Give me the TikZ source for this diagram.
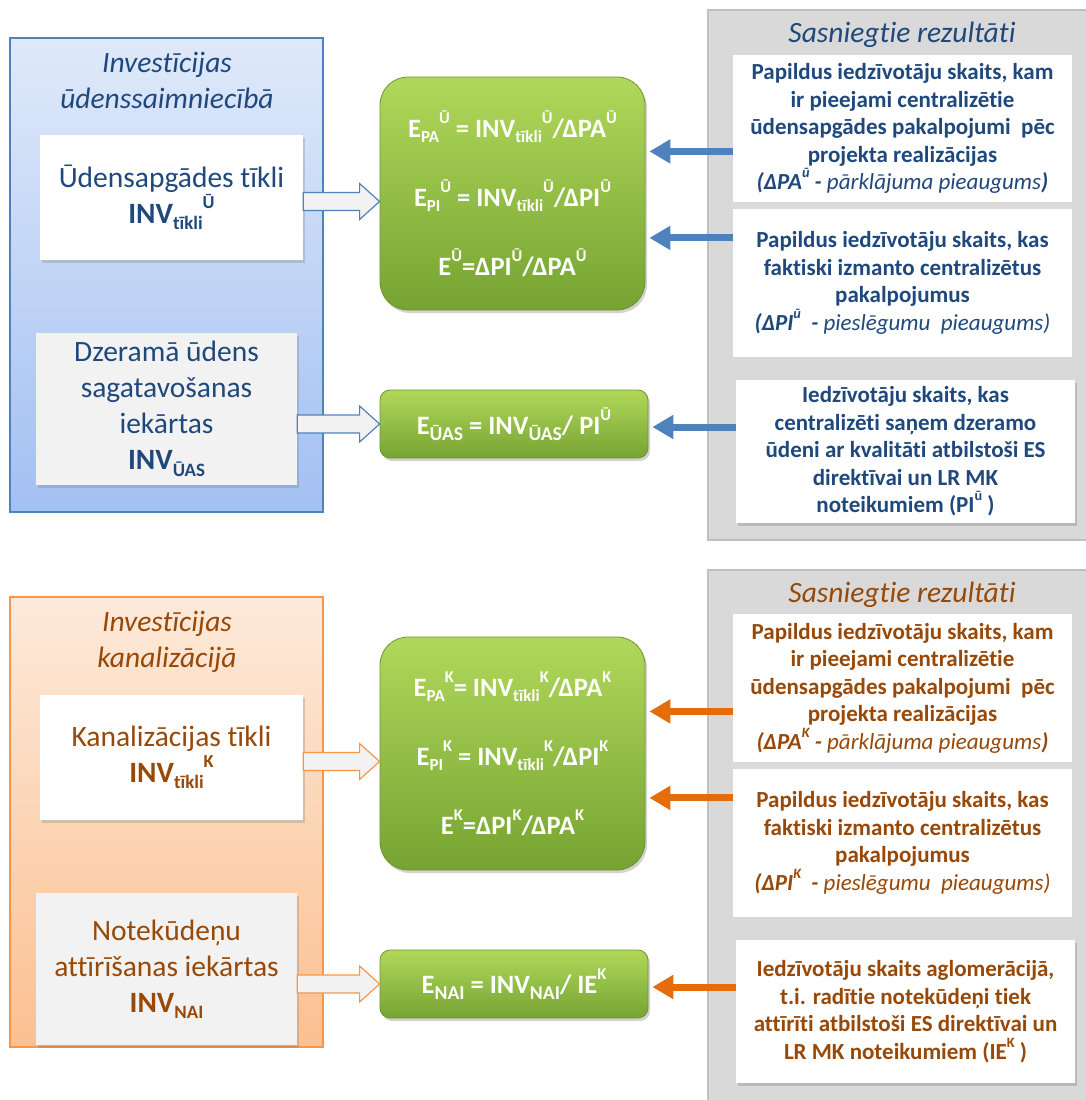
\documentclass[tikz,border=0pt]{standalone}
\usepackage{fontspec}
\setmainfont{Carlito}[Ligatures={TeX,NoCommon}]
\usetikzlibrary{calc, arrows.meta, positioning, shadows}
\definecolor{watertext}{RGB}{31,73,125}
\definecolor{waterblue}{RGB}{79,129,189}
\definecolor{watertop}{RGB}{224,233,250}
\definecolor{waterbottom}{RGB}{162,192,242}
\definecolor{sewertext}{RGB}{152,72,7}
\definecolor{sewerorange}{RGB}{228,108,10}
\definecolor{sewerline}{RGB}{247,150,70}
\definecolor{sewertop}{RGB}{253,234,218}
\definecolor{sewerbottom}{RGB}{251,192,145}
\definecolor{greentop}{RGB}{176,216,90}
\definecolor{greenbottom}{RGB}{118,163,50}
\definecolor{greenedge}{RGB}{110,150,50}
\definecolor{srcgray}{RGB}{242,242,242}
\definecolor{resgray}{RGB}{217,217,217}
\definecolor{resline}{RGB}{191,191,191}
\newcommand{\lowtxt}[2][0.64]{\raisebox{-0.22em}{\scalebox{#1}{#2}}}
\newcommand{\hightxt}[1]{\raisebox{0.52em}{\scalebox{0.62}{#1}}}
\newcommand{\hollowarrow}[3]{%
	\draw[#3, fill=srcgray, line width=1.2pt, line join=miter] let \p1=(#1.east), \p2=(#2) in
		(\x1,\y2+9pt) -- (\x2-20pt,\y2+9pt) -- (\x2-20pt,\y2+18pt) -- (\x2,\y2)
		-- (\x2-20pt,\y2-18pt) -- (\x2-20pt,\y2-9pt) -- (\x1,\y2-9pt) -- cycle;}

\begin{document}
\begin{tikzpicture}[x=1pt, y=-1pt,
		panel/.style={draw, line width=1.2pt, inner sep=0pt},
		title/.style={font=\itshape\fontsize{29.5}{36}\selectfont, align=center},
		srcbox/.style={minimum width=263pt, minimum height=125pt, align=center, inner sep=0pt,
			font=\fontsize{29.5}{36}\selectfont, drop shadow={opacity=0.3, shadow xshift=2pt, shadow yshift=-3pt}},
		effbox/.style={rounded corners=28pt, top color=greentop, bottom color=greenbottom, draw=greenedge,
			line width=0.8pt, text=white, align=center, inner sep=0pt, minimum width=265pt,
			font=\bfseries\fontsize{26.5}{69}\selectfont, drop shadow={opacity=0.35, shadow xshift=2pt, shadow yshift=-3pt}},
		resbox/.style={fill=white, minimum width=339pt, minimum height=147pt, align=center, inner sep=0pt,
			font=\bfseries\fontsize{23}{27.5}\selectfont},
		resarrow/.style={line width=7pt, -{Triangle[length=21pt, width=23pt]}}]
	\useasboundingbox (0,0) rectangle (1086,1100);

	\node[panel, draw=waterblue, top color=watertop, bottom color=waterbottom, minimum width=313pt, minimum height=474pt] (wpanel) at (166.5,275) {};
	\node[title, text=watertext] (wtitle) at (167,80) {Investīcijas\\ūdenssaimniecībā};
	\node[srcbox, fill=white, text=watertext] (wnet) at (171.5,197.5) {Ūdensapgādes tīkli\\\textbf{INV\lowtxt{tīkli}\hightxt{Ū}}};
	\node[srcbox, fill=srcgray, text=watertext, minimum width=261pt, minimum height=152pt] (wtreat) at (166.5,409) {Dzeramā ūdens\\sagatavošanas\\iekārtas\\\textbf{INV\lowtxt{ŪAS}}};

	\node[effbox, minimum height=233pt] (weff) at (512.5,193.5) {E\lowtxt{PA}\hightxt{Ū} = INV\lowtxt{tīkli}\hightxt{Ū}/ΔPA\hightxt{Ū}\\E\lowtxt{PI}\hightxt{Ū} = INV\lowtxt{tīkli}\hightxt{Ū}/ΔPI\hightxt{Ū}\\E\hightxt{Ū}=ΔPI\hightxt{Ū}/ΔPA\hightxt{Ū}};
	\node[effbox, rounded corners=10pt, minimum width=268pt, minimum height=68pt] (wgreen) at (514,424) {E\lowtxt[0.74]{ŪAS} = INV\lowtxt[0.74]{ŪAS}/ PI\hightxt{Ū}};

	\node[panel, draw=resline, fill=resgray, minimum width=382pt, minimum height=530pt] (wres) at (899,275) {};
	\node[title, text=watertext] (wrestitle) at (902,35) {Sasniegtie rezultāti};
	\node[resbox, text=watertext] (wres1) at (902.5,128.5) {Papildus iedzīvotāju skaits, kam\\ir pieejami centralizētie\\ūdensapgādes pakalpojumi\ \ pēc\\projekta realizācijas\\{\itshape(ΔPA\hightxt{ū} -} {\mdseries\itshape pārklājuma pieaugums}{\itshape)}};
	\node[resbox, text=watertext, minimum height=148pt] (wres2) at (902.5,283) {Papildus iedzīvotāju skaits, kas\\faktiski izmanto centralizētus\\pakalpojumus\\{\itshape(ΔPI\hightxt{ū}\ \ -} {\mdseries\itshape pieslēgumu\ \ pieaugums)}};
	\node[resbox, text=watertext, minimum height=143pt, drop shadow={opacity=0.35, shadow xshift=2pt, shadow yshift=-3pt}] (wres3) at (905.5,451.5) {Iedzīvotāju skaits, kas\\centralizēti saņem dzeramo\\ūdeni ar kvalitāti atbilstoši ES\\direktīvai un LR MK\\noteikumiem (PI\hightxt{ū} )};

	\coordinate (weffin) at ([yshift=-8pt]weff.west);
	\hollowarrow{wnet}{weffin}{waterblue}
	\hollowarrow{wtreat}{wgreen.west}{waterblue}
	\coordinate (wa1) at ($(weff.north east)!0.32!(weff.south east)+(4,0)$);
	\coordinate (wa2) at ($(weff.north east)!0.69!(weff.south east)+(4,0)$);
	\coordinate (wa3) at ([xshift=4pt, yshift=-3pt]wgreen.east);
	\draw[resarrow, waterblue] (wres1.west |- wa1) -- (wa1);
	\draw[resarrow, waterblue] (wres2.west |- wa2) -- (wa2);
	\draw[resarrow, waterblue] (wres3.west |- wa3) -- (wa3);

	\node[panel, draw=sewerline, top color=sewertop, bottom color=sewerbottom, minimum width=313pt, minimum height=450pt] (kpanel) at (166.5,822) {};
	\node[title, text=sewertext] (ktitle) at (167,642) {Investīcijas\\kanalizācijā};
	\node[srcbox, fill=white, text=sewertext] (knet) at (171.5,757.5) {Kanalizācijas tīkli\\\textbf{INV\lowtxt{tīkli}\hightxt{K}}};
	\node[srcbox, fill=srcgray, text=sewertext, minimum width=261pt, minimum height=152pt] (ktreat) at (166.5,969) {Notekūdeņu\\attīrīšanas iekārtas\\\textbf{INV\lowtxt{NAI}}};

	\node[effbox, minimum height=233pt] (keff) at (512.5,753.5) {E\lowtxt{PA}\hightxt{K}= INV\lowtxt{tīkli}\hightxt{K}/ΔPA\hightxt{K}\\E\lowtxt{PI}\hightxt{K} = INV\lowtxt{tīkli}\hightxt{K}/ΔPI\hightxt{K}\\E\hightxt{K}=ΔPI\hightxt{K}/ΔPA\hightxt{K}};
	\node[effbox, rounded corners=10pt, minimum width=268pt, minimum height=68pt] (kgreen) at (514,984) {E\lowtxt[0.74]{NAI} = INV\lowtxt[0.74]{NAI}/ IE\hightxt{K}};

	\node[panel, draw=resline, fill=resgray, minimum width=382pt, minimum height=534pt] (kres) at (899,837) {};
	\node[title, text=sewertext] (krestitle) at (902,595) {Sasniegtie rezultāti};
	\node[resbox, text=sewertext, minimum height=148pt] (kres1) at (902.5,688) {Papildus iedzīvotāju skaits, kam\\ir pieejami centralizētie\\ūdensapgādes pakalpojumi\ \ pēc\\projekta realizācijas\\{\itshape(ΔPA\hightxt{K} -} {\mdseries\itshape pārklājuma pieaugums}{\itshape)}};
	\node[resbox, text=sewertext, minimum height=148pt] (kres2) at (902.5,843) {Papildus iedzīvotāju skaits, kas\\faktiski izmanto centralizētus\\pakalpojumus\\{\itshape(ΔPI\hightxt{K}\ \ -} {\mdseries\itshape pieslēgumu\ \ pieaugums)}};
	\node[resbox, text=sewertext, minimum height=143pt, drop shadow={opacity=0.35, shadow xshift=2pt, shadow yshift=-3pt}] (kres3) at (905.5,1011.5) {Iedzīvotāju skaits aglomerācijā,\\t.i. radītie notekūdeņi tiek\\attīrīti atbilstoši ES direktīvai un\\LR MK noteikumiem (IE\hightxt{K} )};

	\coordinate (keffin) at ([yshift=-8pt]keff.west);
	\hollowarrow{knet}{keffin}{sewerline}
	\hollowarrow{ktreat}{kgreen.west}{sewerline}
	\coordinate (ka1) at ($(keff.north east)!0.32!(keff.south east)+(4,0)$);
	\coordinate (ka2) at ($(keff.north east)!0.69!(keff.south east)+(4,0)$);
	\coordinate (ka3) at ([xshift=4pt, yshift=-3pt]kgreen.east);
	\draw[resarrow, sewerorange] (kres1.west |- ka1) -- (ka1);
	\draw[resarrow, sewerorange] (kres2.west |- ka2) -- (ka2);
	\draw[resarrow, sewerorange] (kres3.west |- ka3) -- (ka3);
\end{tikzpicture}
\end{document}
